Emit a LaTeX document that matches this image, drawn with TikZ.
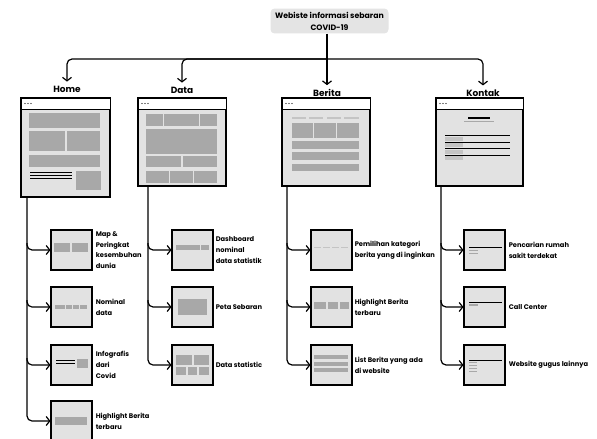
\documentclass[tikz,border=0pt]{standalone}
\usepackage{fontspec}
\setmainfont{Poppins}
\usetikzlibrary{arrows.meta,positioning,calc}
\definecolor{pagefill}{HTML}{E2E2E2}
\definecolor{blockgray}{HTML}{A8A8A8}
\definecolor{lightbar}{HTML}{C4C4C4}
\definecolor{hubfill}{HTML}{E4E4E4}

\begin{document}
\begin{tikzpicture}[x=1pt, y=-1pt,
  page/.style={draw=black, line width=1.1pt, fill=pagefill, anchor=north west, inner sep=0},
  thumb/.style={draw=black, line width=1.1pt, fill=pagefill, minimum width=41, minimum height=40, inner sep=0},
  conn/.style={line width=1.2pt, rounded corners=5pt, -{Straight Barb[length=3.5pt,width=9pt]}},
  heading/.style={font=\bfseries\fontsize{9}{11}\selectfont, inner sep=0},
  lbl/.style={font=\bfseries\fontsize{6.7}{10.7}\selectfont, align=left, inner sep=0},
  blk/.style={fill=blockgray},
  rule/.style={line width=0.9pt}]
\useasboundingbox (0,0) rectangle (597,439);
\clip (0,0) rectangle (597,439);
% window bar on top of each page mock-up
\newcommand{\winbar}[1]{%
  \fill[white] (#1.north west) rectangle ([yshift=-11pt]#1.north east);
  \draw[line width=1.1pt] (#1.north west) rectangle (#1.south east);
  \draw[line width=0.8pt] ([yshift=-11pt]#1.north west) -- ([yshift=-11pt]#1.north east);
  \foreach \d in {4,7,10} \fill ([xshift=\d pt, yshift=-5.5pt]#1.north west) circle (0.7pt);}

% site and menu titles
\node[fill=hubfill, rounded corners=4pt, minimum width=118, minimum height=24, align=center,
  font=\bfseries\fontsize{7.8}{12}\selectfont] (site) at (329.5,21) {Webiste informasi sebaran\\COVID-19};
\coordinate (hub) at (327,59);
\node[heading] (tHome) at (67,89) {Home};
\node[heading] (tData) at (182,90) {Data};
\node[heading] (tBerita) at (327,93) {Berita};
\node[heading] (tKontak) at (483,93) {Kontak};

\draw[line width=1.2pt] (site.south -| hub) -- (hub);
\draw[conn, shorten >=4pt] (hub) -- (tBerita.north);
\draw[conn, shorten >=4pt] (hub) -| (tHome.north);
\draw[conn, shorten >=4pt] (hub) -| (tData.north);
\draw[conn, shorten >=4pt] (hub) -| (tKontak.north);

% page mock-ups
\node[page, minimum width=88, minimum height=98] (home) at (21,98) {};
\node[page, minimum width=87, minimum height=87] (data) at (138,98) {};
\node[page, minimum width=87, minimum height=87] (berita) at (282,98) {};
\node[page, minimum width=86, minimum height=87] (kontak) at (436,98) {};
\winbar{home} \winbar{data} \winbar{berita} \winbar{kontak}

% home layout
\fill[blk] (29,113) rectangle (100,128);
\fill[blk] (29,131) rectangle (65,151);
\fill[blk] (67,131) rectangle (100,151);
\fill[blk] (29,155) rectangle (100,167);
\foreach \y in {172,175,178} \draw[rule] (30,\y) -- (72,\y);
\fill[blk] (76,171) rectangle (101,190);

% data layout
\fill[blk] (146,114) rectangle (163,126);
\fill[blk] (164,114) rectangle (199,126);
\fill[blk] (200,114) rectangle (217,126);
\fill[blk] (146,129) rectangle (217,154);
\fill[blk] (146,156) rectangle (181,167);
\fill[blk] (183,156) rectangle (217,167);
\fill[blk] (146,171) rectangle (169,183);
\fill[blk] (170,171) rectangle (193,183);
\fill[blk] (194,171) rectangle (217,183);

% berita layout
\foreach \a/\b in {292/306,309/323,327/341,344/359} \draw[lightbar, line width=1.2pt] (\a,118) -- (\b,118);
\fill[blk] (292,123) rectangle (313,138);
\fill[blk] (314,123) rectangle (336,138);
\fill[blk] (337,123) rectangle (359,138);
\fill[blk] (292,141) rectangle (359,149);
\fill[blk] (292,152) rectangle (359,160);
\fill[blk] (292,164) rectangle (359,171);

% kontak layout
\draw[line width=1.1pt] (468,118) -- (490,118);
\draw[blockgray, line width=1pt] (464,121) -- (494,121);
\foreach \y in {137,143,150,156} \fill[lightbar] (445,\y) rectangle (463,\y+4);
\foreach \y in {135,142,148,155} \draw[rule] (445,\y) -- (510,\y);

% sub pages
\node[thumb] (h1) at (71.5,250) {};
\node[thumb] (h2) at (71.5,307) {};
\node[thumb] (h3) at (71.5,365) {};
\node[thumb] (h4) at (71.5,421) {};
\node[thumb] (d1) at (192.5,250) {};
\node[thumb] (d2) at (192.5,307) {};
\node[thumb] (d3) at (192.5,365) {};
\node[thumb] (b1) at (331.5,250) {};
\node[thumb] (b2) at (331.5,307) {};
\node[thumb] (b3) at (331.5,365) {};
\node[thumb] (k1) at (484.5,250) {};
\node[thumb] (k2) at (484.5,307) {};
\node[thumb] (k3) at (484.5,365) {};

% sub page contents
\fill[blk] (54,243) rectangle (70,252);
\fill[blk] (72,243) rectangle (88,252);
\foreach \a/\b in {55/65,66/72,73/79,80/87} \fill[blk] (\a,305) rectangle (\b,309);
\draw[line width=0.8pt] (56,360) -- (75,360) (56,363) -- (75,363);
\fill[blk] (77,359) rectangle (88,368);
\fill[blk] (55,417) rectangle (87,425);

\fill[blk] (176,245) rectangle (200,250);
\fill[blk] (201,245) rectangle (209,250);
\fill[blk] (178,299) rectangle (207,315);
\fill[blk] (176,355) rectangle (192,365);
\fill[blk] (194,355) rectangle (209,365);
\fill[blk] (176,367) rectangle (186,375);
\fill[blk] (188,367) rectangle (197,375);
\fill[blk] (199,367) rectangle (209,375);

\foreach \a in {314,323,332,341} \draw[lightbar, line width=1pt] (\a,247) -- ++(7,0);
\fill[blk] (314,302) rectangle (326,309);
\fill[blk] (328,302) rectangle (338,309);
\fill[blk] (340,302) rectangle (349,309);
\foreach \y in {355,362,368} \fill[blk] (314,\y) rectangle (348,\y+4);

\draw[rule] (469,247) -- (502,247);
\fill[blk] (469,249.5) rectangle (478,251);
\fill[blk] (469,252.5) rectangle (478,254);
\draw[rule] (469,302) -- (502,302);
\fill[blk] (469,304) rectangle (478,305.5);
\draw[rule] (469,360) -- (502,360);
\foreach \y in {362,365,368,371} \fill[blk] (469,\y) rectangle (477,\y+1.2);

% labels
\node[lbl, right=3pt of h1] {Map \&\\Peringkat\\kesembuhan\\dunia};
\node[lbl, right=3pt of h2] {Nominal\\data};
\node[lbl, right=3pt of h3] {Infografis\\dari\\Covid};
\node[lbl, right=3pt of h4] {Highlight Berita\\terbaru};
\node[lbl, right=2pt of d1] {Dashboard\\nominal\\data statistik};
\node[lbl, right=2pt of d2] {Peta Sebaran};
\node[lbl, right=2pt of d3] {Data statistic};
\node[lbl, right=2pt of b1] {Pemilihan kategori\\berita yang di inginkan};
\node[lbl, right=2pt of b2] {Highlight Berita\\terbaru};
\node[lbl, right=2pt of b3] {List Berita yang ada\\di website};
\node[lbl, right=3pt of k1] {Pencarian rumah\\sakit terdekat};
\node[lbl, right=3pt of k2] {Call Center};
\node[lbl, right=3pt of k3] {Website gugus lainnya};

% trunks and branches
\coordinate (hT) at ([xshift=6pt]home.south west);
\coordinate (dT) at ([xshift=10pt]data.south west);
\coordinate (bT) at ([xshift=5pt]berita.south west);
\coordinate (kT) at ([xshift=5pt]kontak.south west);
\draw[conn] (hT) |- (h4.west);
\draw[conn] (dT) |- (d3.west);
\draw[conn] (bT) |- (b3.west);
\draw[conn] (kT) |- (k3.west);
\foreach \t/\n in {hT/h1,hT/h2,hT/h3,dT/d1,dT/d2,bT/b1,bT/b2,kT/k1,kT/k2}
  \draw[conn] ($(\n.west -| \t)+(0,-7)$) |- (\n.west);
\end{tikzpicture}
\end{document}
